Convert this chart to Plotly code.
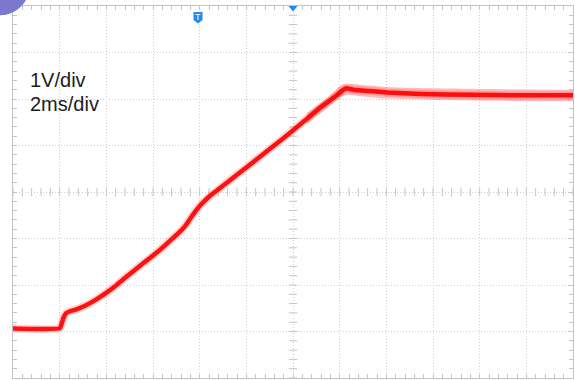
import numpy as np
import plotly.graph_objects as go

# Scope capture: 1 V/div vertical, 2 ms/div horizontal, 12 x 8 divisions
time_ms = [0.0, 2.0, 2.08, 2.16, 2.27, 2.42, 2.68, 3.11, 3.54, 3.96, 4.39, 4.74,
           5.46, 6.19, 6.88, 7.18, 7.35, 7.52, 7.74, 7.95, 8.21, 8.46, 9.75,
           11.04, 11.89, 13.18, 13.82, 14.11, 14.29, 14.59, 15.32, 16.05,
           17.46, 19.61, 21.75, 24.0]
volts = [-2.935, -2.935, -2.84, -2.71, -2.61, -2.57, -2.53, -2.44, -2.32, -2.18,
         -2.02, -1.87, -1.58, -1.29, -0.98, -0.84, -0.75, -0.63, -0.47, -0.33,
         -0.19, -0.075, 0.43, 0.94, 1.28, 1.82, 2.06, 2.18, 2.23, 2.20, 2.17,
         2.14, 2.11, 2.09, 2.08, 2.08]

# persistence spread around the top of the ramp and the plateau
spread_t = [12.6, 13.5, 14.1, 14.4, 15.3, 16.0, 18.0, 21.0, 24.0]
spread_hi = [1.70, 2.04, 2.31, 2.33, 2.29, 2.26, 2.23, 2.21, 2.20]
spread_lo = [1.46, 1.82, 2.06, 2.08, 2.04, 2.01, 1.98, 1.96, 1.95]

scale_labels = ["1V/div", "2ms/div"]

X_RANGE = [0, 24]
Y_RANGE = [-4, 4]
GRID = "#cdcdcd"
FRAME = "#c4c4c4"
BLUE = "#1f8bf0"

fig = go.Figure()

# tick marks along the centre graticule lines
tx = np.arange(X_RANGE[0], X_RANGE[1] + 1e-9, 0.4)
ty = np.arange(Y_RANGE[0], Y_RANGE[1] + 1e-9, 0.2)
fig.add_trace(go.Scatter(x=tx, y=[0] * len(tx), mode="markers", hoverinfo="skip",
                         marker=dict(symbol="line-ns-open", size=6, color=FRAME,
                                     line=dict(width=1, color=FRAME))))
fig.add_trace(go.Scatter(x=[12] * len(ty), y=ty, mode="markers", hoverinfo="skip",
                         marker=dict(symbol="line-ew-open", size=6, color=FRAME,
                                     line=dict(width=1, color=FRAME))))

# persistence band
fig.add_trace(go.Scatter(x=spread_t, y=spread_lo, mode="lines", hoverinfo="skip",
                         line=dict(width=0, shape="spline", smoothing=0.4)))
fig.add_trace(go.Scatter(x=spread_t, y=spread_hi, mode="lines", hoverinfo="skip",
                         fill="tonexty", fillcolor="rgba(255,30,30,0.30)",
                         line=dict(width=0, shape="spline", smoothing=0.4)))

# glow and trace core
fig.add_trace(go.Scatter(x=time_ms, y=volts, mode="lines", hoverinfo="skip",
                         line=dict(color="rgba(255,40,40,0.22)", width=8,
                                   shape="spline", smoothing=0.3)))
fig.add_trace(go.Scatter(x=time_ms, y=volts, mode="lines",
                         line=dict(color="rgba(255,0,0,0.92)", width=4.5,
                                   shape="spline", smoothing=0.3)))

axis_common = dict(showgrid=True, griddash="1px,2px", gridcolor=GRID, gridwidth=1,
                   showline=True, linecolor=FRAME, linewidth=1, mirror="allticks",
                   ticks="inside", ticklen=4, tickcolor=FRAME,
                   showticklabels=False, zeroline=False, fixedrange=True)

fig.update_xaxes(range=X_RANGE, dtick=2, tick0=0,
                 minor=dict(dtick=0.4, ticks="inside", ticklen=4,
                            tickcolor=FRAME, showgrid=False),
                 **axis_common)
fig.update_yaxes(range=Y_RANGE, dtick=1, tick0=-4,
                 minor=dict(dtick=0.2, ticks="inside", ticklen=4,
                            tickcolor=FRAME, showgrid=False),
                 **axis_common)

# trigger position flag "T"
fig.add_shape(type="path", xref="x", yref="y", xsizemode="pixel", ysizemode="pixel",
              xanchor=7.93, yanchor=4,
              path="M -4.5 -6 L 4.5 -6 L 4.5 -14 L 0 -17.5 L -4.5 -14 Z",
              fillcolor=BLUE, line=dict(width=0), layer="above")
fig.add_annotation(x=7.93, y=4, xref="x", yref="y", text="T", showarrow=False,
                   yshift=-11, font=dict(family="Liberation Sans", size=9, color="white"))

# expansion point marker at the centre of the top edge
fig.add_shape(type="path", xref="x", yref="y", xsizemode="pixel", ysizemode="pixel",
              xanchor=12, yanchor=4,
              path="M -4.5 0 L 4.5 0 L 0 -5.5 Z",
              fillcolor=BLUE, line=dict(width=0), layer="above")

# channel badge in the corner
fig.add_shape(type="circle", xref="paper", yref="paper",
              x0=-0.076, x1=0.03, y0=0.975, y1=1.135,
              fillcolor="#7b79cf", line=dict(width=0), layer="above")

for i, txt in enumerate(scale_labels):
    fig.add_annotation(x=0.026, y=0.802 - i * 0.066, xref="paper", yref="paper",
                       xanchor="left", yanchor="middle", text=txt, showarrow=False,
                       font=dict(family="Liberation Sans, Arial", size=20, color="#1c1c1c"))

fig.update_layout(width=575, height=380, margin=dict(l=13, r=2, t=6, b=2),
                  paper_bgcolor="white", plot_bgcolor="white", showlegend=False)

fig.write_html("out.html")
